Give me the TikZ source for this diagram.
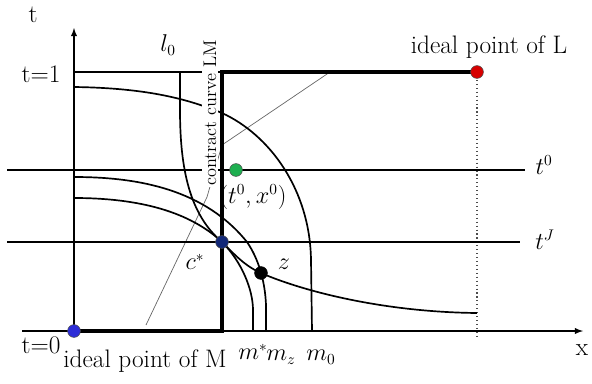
\documentclass[tikz,border=0pt]{standalone}
\usepackage{amsmath}
\usepackage{tikz}
\usetikzlibrary{arrows}
\usetikzlibrary{calc}
\usetikzlibrary{positioning}
\tikzset{>=latex}
\definecolor{ptblue}{RGB}{45,45,215}
\definecolor{ptnavy}{RGB}{18,40,120}
\definecolor{ptgreen}{RGB}{30,175,80}
\definecolor{ptred}{RGB}{215,0,0}
\tikzset{
  axisline/.style = {line width=1pt},
  hline/.style = {line width=1.5pt},
  boxline/.style = {line width=3pt},
  icurve/.style = {line width=1.2pt},
  cline/.style = {line width=0.5pt, black!60},
  dot/.style = {circle, draw=black!70, line width=0.4pt, minimum size=0.32cm, inner sep=0pt},
  lbl/.style = {inner sep=1pt, font=\fontsize{18}{20}\selectfont},
  mlbl/.style = {inner sep=0pt, font=\fontsize{16}{18}\selectfont}
}
\begin{document}
\begin{tikzpicture}[x=0.025cm, y=-0.025cm]
  \useasboundingbox (0,0) rectangle (592,383);
  % points of the box
  \coordinate (oM) at (74,331);
  \coordinate (oL) at (477,72);
  \coordinate (cM) at (222,331);
  \coordinate (cL) at (222,72);
  \coordinate (pt0) at (236,170);
  \coordinate (pcs) at (222,242);
  \coordinate (pz) at (261,273);
  % axes
  \coordinate (xa) at (22,331);
  \coordinate (xb) at (583,331);
  \coordinate (ta) at (74,28);
  \draw[axisline,->] (xa) -- (xb);
  \draw[axisline,->] (oM) -- (ta);
  \coordinate (t1a) at (74,72);
  \draw[axisline] (t1a) -- (cL);
  \coordinate (dL) at (477,337);
  \draw[line width=0.8pt, dotted, black!70] (oL) -- (dL);
  % thin line c*
  \draw[cline] (146,325) -- (207,197) -- (222,145) -- (330,72);
  % horizontal levels
  \coordinate (h0a) at (7,170);
  \coordinate (h0b) at (525,170);
  \coordinate (hJa) at (7,242);
  \coordinate (hJb) at (520,242);
  \draw[hline] (h0a) -- (h0b);
  \draw[hline] (hJa) -- (hJb);
  % indifference curves
  \draw[icurve] (74,87) .. controls (150,88) and (190,100) .. (222,113)
    .. controls (270,135) and (310,190) .. (311,260) -- (312,331);
  \draw[icurve] (74,177) .. controls (140,177) and (205,190) .. (247,242)
    .. controls (258,258) and (265,280) .. (266,305) -- (266,331);
  \draw[icurve] (74,198) .. controls (140,198) and (190,212) .. (pcs)
    .. controls (242,262) and (253,290) .. (253,310) -- (253,331);
  \draw[icurve] (180,72) -- (180,110) .. controls (180,170) and (190,215) .. (pcs)
    .. controls (235,255) and (245,266) .. (pz)
    .. controls (300,290) and (380,312) .. (477,313);
  \node[rotate=90, fill=white, inner sep=1pt, font=\fontsize{13}{15}\selectfont] (cc) at (210,113) {contract curve LM};
  % the box edges
  \draw[boxline] (oM) -- (cM) -- (cL) -- (oL);
  % points
  \node[dot, fill=ptblue] (iM) at (oM) {};
  \node[dot, fill=ptred] (iL) at (oL) {};
  \node[dot, fill=ptgreen] (g0) at (pt0) {};
  \node[dot, fill=ptnavy] (cs) at (pcs) {};
  \node[dot, fill=black, draw=black] (zz) at (pz) {};
  % labels
  \node[lbl] (tlab) at (33,15) {t};
  \node[lbl] (xlab) at (582,350) {x};
  \node[lbl] (t1lab) at (41,74) {t=1};
  \node[lbl] (t0lab) at (41,345) {t=0};
  \node[lbl] (idM) at (145,361) {ideal point of M};
  \node[lbl] (idL) at (489,47) {ideal point of L};
  \node[mlbl] (l0lab) at (168,45) {$l_0$};
  \node[mlbl] (t0lab2) at (544,165) {$t^0$};
  \node[mlbl] (tJlab) at (545,240) {$t^J$};
  \node[mlbl] (p0lab) at (253,197) {$(t^0,x^0)$};
  \node[mlbl] (cslab) at (195,262) {$c^*$};
  \node[mlbl] (zlab) at (284,264) {$z$};
  \node[mlbl] (mslab) at (253,352) {$m^*$};
  \node[mlbl] (mzlab) at (281,357) {$m_z$};
  \node[mlbl] (m0lab) at (321,357) {$m_0$};
\end{tikzpicture}
\end{document}
